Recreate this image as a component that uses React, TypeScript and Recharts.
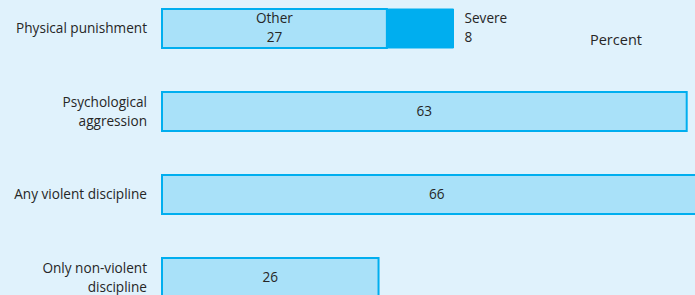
import { BarChart, Bar, XAxis, YAxis, LabelList } from 'recharts';

const categories = ['Physical punishment', 'Psychological\naggression', 'Any violent discipline', 'Only non-violent\ndiscipline'];
const otherValues = [27, 63, 66, 26];
const severeValues: (number | null)[] = [8, null, null, null];
const otherNames = ['Other', '', '', ''];
const severeNames = ['Severe', '', '', ''];

const TEXT = '#262626';
const FONT = '"Open Sans", sans-serif';
const FS = 13.6;

const data = categories.map((name, i) => ({
    name,
    other: otherValues[i],
    severe: severeValues[i],
}));

function CategoryTick({ y, payload }: any) {
    const lines = String(payload.value).split('\n');
    const start = y - ((lines.length - 1) * 19) / 2;
    return (
        <text x={147} y={start} textAnchor="end" fill={TEXT} fontSize={FS} fontFamily={FONT}>
            {lines.map((l, i) => (
                <tspan key={i} x={147} y={start + i * 19} dy="0.35em">{l}</tspan>
            ))}
        </text>
    );
}

function OtherLabel({ x, y, width, height, index, value }: any) {
    const cx = x + width / 2;
    const cy = y + height / 2;
    const title = otherNames[index];
    if (title) {
        return (
            <text textAnchor="middle" fill={TEXT} fontSize={FS} fontFamily={FONT}>
                <tspan x={cx} y={cy - 10} dy="0.35em">{title}</tspan>
                <tspan x={cx} y={cy + 9} dy="0.35em">{value}</tspan>
            </text>
        );
    }
    return (
        <text x={cx} y={cy} dy="0.35em" textAnchor="middle" fill={TEXT} fontSize={FS} fontFamily={FONT}>{value}</text>
    );
}

function SevereLabel({ x, y, width, height, index, value }: any) {
    if (value == null) return null;
    const lx = x + width + 11;
    const cy = y + height / 2;
    return (
        <text textAnchor="start" fill={TEXT} fontSize={FS} fontFamily={FONT}>
            <tspan x={lx} y={cy - 10} dy="0.35em">{severeNames[index]}</tspan>
            <tspan x={lx} y={cy + 9} dy="0.35em">{value}</tspan>
        </text>
    );
}

export default function App() {
    return (
        <div style={{ position: 'fixed', left: 0, top: 0, width: 695, height: 295, overflow: 'hidden', background: '#e0f2fc' }}>
            <div style={{ position: 'absolute', left: 0, top: -13 }}>
                <BarChart
                    layout="vertical"
                    width={745}
                    height={332}
                    data={data}
                    margin={{ top: 0, right: 0, bottom: 0, left: 0 }}
                    barSize={39}
                >
                    <XAxis type="number" domain={[0, 70]} hide />
                    <YAxis type="category" dataKey="name" width={162} axisLine={false} tickLine={false} tick={<CategoryTick />} interval={0} />
                    <Bar dataKey="other" stackId="a" fill="#a9e1f9" stroke="#00aeef" strokeWidth={2} isAnimationActive={false}>
                        <LabelList dataKey="other" content={<OtherLabel />} />
                    </Bar>
                    <Bar dataKey="severe" stackId="a" fill="#00aeef" stroke="#00aeef" strokeWidth={1} isAnimationActive={false}>
                        <LabelList dataKey="severe" content={<SevereLabel />} />
                    </Bar>
                </BarChart>
            </div>
            <div style={{ position: 'absolute', left: 590, top: 30, fontSize: 14.5, fontFamily: FONT, color: TEXT, lineHeight: '20px' }}>
                Percent
            </div>
        </div>
    );
}
